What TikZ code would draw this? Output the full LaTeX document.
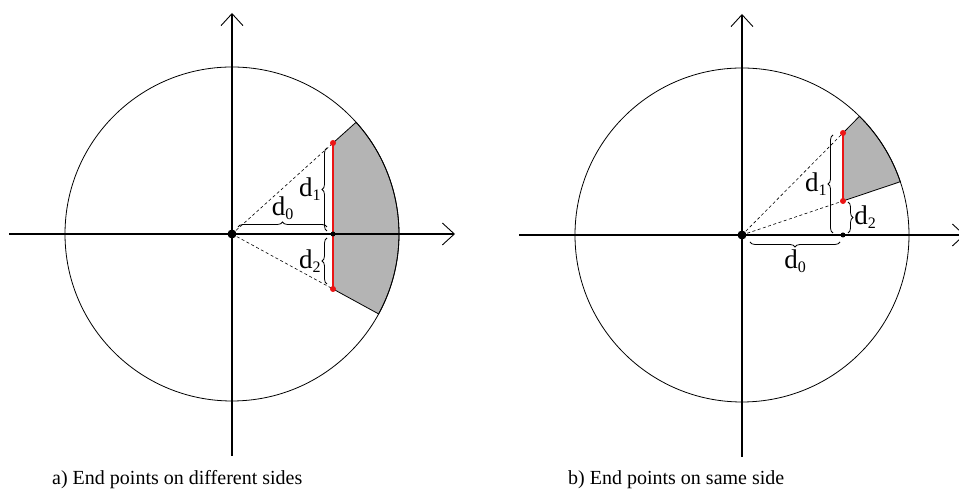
\documentclass[tikz,border=0pt]{standalone}
\usepackage{fontspec}
\setmainfont{Liberation Serif}
\usepackage{tikz}
\usetikzlibrary{arrows.meta, positioning, calc, decorations.pathreplacing}
\definecolor{myred}{RGB}{235,20,20}
\definecolor{mygray}{RGB}{180,180,180}
\newcommand{\dsub}[1]{d\raisebox{-4pt}{\fontsize{16}{18}\selectfont #1}}
\tikzset{
  axisline/.style={line width=1.3pt, -{Straight Barb[length=12pt, width=22pt, line width=0.9pt]}},
  ring/.style={line width=0.8pt},
  sector/.style={fill=mygray, draw=black, line width=0.8pt},
  ray/.style={line width=0.6pt, dash pattern=on 3pt off 2.5pt},
  chord/.style={draw=myred, line width=1.7pt},
  bigdot/.style={circle, fill=black, inner sep=0pt, minimum size=9pt},
  smalldot/.style={circle, fill=black, inner sep=0pt, minimum size=5pt},
  reddot/.style={circle, fill=myred, inner sep=0pt, minimum size=6pt},
  curly/.style={decorate, decoration={brace, amplitude=5pt}, line width=0.8pt},
  dlabel/.style={font=\fontsize{27}{29}\selectfont, inner sep=0pt},
  caption/.style={font=\fontsize{20}{22}\selectfont, anchor=base west, inner sep=0pt}
}

\begin{document}
\begin{tikzpicture}[x=1pt, y=1pt]
  \useasboundingbox (0,0) rectangle (959,494);

  % a) End points on different sides
  \begin{scope}[shift={(232,260)}]
    \coordinate (aO) at (0,0);
    \coordinate (aP) at (101,91);
    \coordinate (aQ) at (101,-55);
    \coordinate (aW) at (-223,0);
    \coordinate (aE) at (223,0);
    \coordinate (aS) at (0,-222);
    \coordinate (aN) at (0,221);

    \draw[sector] (aP) -- (42.0:167) arc[start angle=42.0, end angle=-28.6, radius=167] -- (aQ) -- cycle;
    \draw[ring] (aO) circle[radius=167];
    \draw[axisline] (aW) -- (aE);
    \draw[axisline] (aS) -- (aN);

    \draw[ray] (aO) -- (aP);
    \draw[ray] (aO) -- (aQ);
    \draw[chord] (aP) -- (aQ);

    % braces
    \draw[curly] (6,7) -- (95,7) node[dlabel, midway, above=7pt] (aD0) {\dsub{0}};
    \draw[curly] (95,3) -- (95,86) node[dlabel, midway, left=6pt] (aD1) {\dsub{1}};
    \draw[curly] (95,-50) -- (95,-4) node[dlabel, midway, left=6pt] (aD2) {\dsub{2}};

    \node[bigdot] (aOrig) at (aO) {};
    \node[smalldot] (aMid) at (101,0) {};
    \node[reddot] (aTop) at (aP) {};
    \node[reddot] (aBot) at (aQ) {};
  \end{scope}

  % b) End points on same side
  \begin{scope}[shift={(742,259)}]
    \coordinate (bO) at (0,0);
    \coordinate (bP) at (101,102);
    \coordinate (bQ) at (101,34);
    \coordinate (bW) at (-223,0);
    \coordinate (bE) at (223,0);
    \coordinate (bS) at (0,-222);
    \coordinate (bN) at (0,221);

    \draw[sector] (bP) -- (45.3:167) arc[start angle=45.3, end angle=18.6, radius=167] -- (bQ) -- cycle;
    \draw[ring] (bO) circle[radius=167];
    \draw[axisline] (bW) -- (bE);
    \draw[axisline] (bS) -- (bN);

    \draw[ray] (bO) -- (bP);
    \draw[ray] (bO) -- (bQ);
    \draw[chord] (bP) -- (bQ);

    % braces
    \draw[curly] (98,-7) -- (8,-7) node[dlabel, midway, below=7pt] (bD0) {\dsub{0}};
    \draw[curly] (91,2) -- (91,100) node[dlabel, midway, left=6pt] (bD1) {\dsub{1}};
    \draw[curly] (106,33) -- (106,2) node[dlabel, midway, right=6pt] (bD2) {\dsub{2}};

    \node[bigdot] (bOrig) at (bO) {};
    \node[smalldot] (bMid) at (101,0) {};
    \node[reddot] (bTop) at (bP) {};
    \node[reddot] (bBot) at (bQ) {};
  \end{scope}

  % captions
  \node[caption] (capA) at (52,9) {a) End points on different sides};
  \node[caption] (capB) at (568,9) {b) End points on same side};
\end{tikzpicture}
\end{document}
